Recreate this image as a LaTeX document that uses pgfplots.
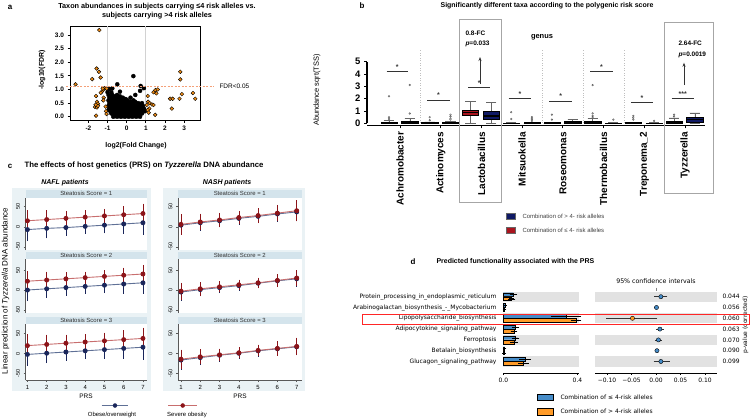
\documentclass[border=0pt]{standalone}
\usepackage{pgfplots}
\pgfplotsset{compat=1.18}
\usepgfplotslibrary{statistics}
\usetikzlibrary{arrows.meta}
\usepackage{fontspec}
\setmainfont{Liberation Sans}
\newfontfamily\dejavu{DejaVu Sans}
\newcommand{\fs}[1]{\fontsize{#1}{#1}\selectfont}

\definecolor{aorange}{RGB}{240,140,20}
\definecolor{fdrline}{RGB}{244,160,120}
\definecolor{bred}{RGB}{170,20,30}
\definecolor{bblue}{RGB}{15,25,100}
\definecolor{cnavy}{RGB}{26,38,90}
\definecolor{cnavyl}{RGB}{95,112,150}
\definecolor{cred}{RGB}{140,20,25}
\definecolor{credl}{RGB}{200,110,110}
\definecolor{stbg}{RGB}{234,242,245}
\definecolor{ststrip}{RGB}{212,228,236}
\definecolor{dblue}{RGB}{70,140,200}
\definecolor{dorange}{RGB}{255,155,40}
\definecolor{band}{RGB}{226,226,226}

\pgfplotsset{
  cax/.style={scale only axis, anchor=north west,
    axis background/.style={fill=white},
    axis y line*=left, axis line style={draw=black!65, line width=0.5bp},
    ytick={-50,0,50}, xtick={1,...,7},
    tick align=outside, major tick length=2bp, tick style={black!65, line width=0.5bp},
    yticklabel style={rotate=90, anchor=south, font=\fs{5.5}},
    xticklabel style={font=\fs{6}},
    /pgf/number format/assume math mode=true, clip=false},
  cleft/.style={cax, xmin=0.9, xmax=7.21, width=121.5bp},
  cright/.style={cax, xmin=0.845, xmax=7.25, width=123.5bp},
  bser/.style={color=cnavyl, line width=0.9bp, mark=*, mark size=2bp,
    mark options={fill=cnavy, draw=cnavy},
    error bars/y dir=both, error bars/y explicit,
    error bars/error bar style={cnavy, line width=0.5bp},
    error bars/error mark options={cnavy, mark size=1.5bp, line width=0.5bp}},
  rser/.style={color=credl, line width=0.9bp, mark=*, mark size=2bp,
    mark options={fill=cred, draw=cred},
    error bars/y dir=both, error bars/y explicit,
    error bars/error bar style={cred, line width=0.5bp},
    error bars/error mark options={cred, mark size=1.5bp, line width=0.5bp}},
  bmark/.style={mark=*, mark size=0.9bp, mark options={fill=gray!40, draw=black!70, line width=0.3bp}},
  dax/.style={scale only axis, anchor=north west, height=82.6bp,
    ymin=-0.6, ymax=7.05, y dir=reverse,
    axis x line*=bottom, axis y line=none,
    axis line style={black, line width=0.5bp},
    tick align=outside, major tick length=2bp, tick style={black, line width=0.5bp},
    xticklabel style={font=\dejavu\fs{6}}, clip=false},
}

\begin{document}
\begin{tikzpicture}[x=1bp, y=-1bp]
\path[use as bounding box] (0,0) rectangle (750,419);

% ---------------- panel a ----------------
\node[font=\fs{8}\bfseries] at (10,7) {a};
\node[font=\fs{7.3}\bfseries, align=center] at (157,11) {Taxon abundances in subjects carrying ≤4 risk alleles vs.\\[1.5bp] subjects carrying >4 risk alleles};
\begin{axis}[at={(70bp,-26bp)}, anchor=north west, scale only axis, width=130bp, height=94bp,
  xmin=-2.96, xmax=3.83, ymin=-0.12, ymax=3.33,
  xtick={-2,-1,0,1,2,3}, ytick={0,0.5,1,1.5,2,2.5,3},
  axis line style={line width=1bp}, tick style={line width=0.8bp, black},
  tick align=outside, major tick length=2.5bp, xtick pos=left, ytick pos=left,
  tick label style={font=\fs{6.5}\bfseries},
  /pgf/number format/assume math mode=true,
  yticklabel style={/pgf/number format/.cd, fixed, fixed zerofill, precision=1},
  clip=false]
\draw[gray!35, line width=0.8bp] (axis cs:-1,-0.12) -- (axis cs:-1,3.33);
\draw[gray!35, line width=0.8bp] (axis cs:1,-0.12) -- (axis cs:1,3.33);
\addplot[only marks, mark=*, mark size=2bp, black] coordinates {
(-0.7,0.0) (-0.5,0.0) (-0.3,0.0) (-0.1,0.0) (0.1,0.0) (0.3,0.0) (0.5,0.0) (0.7,0.0)
(-0.6,0.02) (-0.4,0.02) (-0.2,0.02) (0,0.02) (0.2,0.02) (0.4,0.02) (0.6,0.02)
(-0.6,0.05) (-0.4,0.05) (-0.2,0.05) (0,0.05) (0.2,0.05) (0.4,0.05) (0.6,0.05)
(-0.7,0.08) (-0.5,0.08) (-0.3,0.08) (-0.1,0.08) (0.1,0.08) (0.3,0.08) (0.5,0.08) (0.7,0.08)
(-0.8,0.12) (-0.6,0.12) (-0.4,0.12) (-0.2,0.12) (0,0.12) (0.2,0.12) (0.4,0.12) (0.6,0.12) (0.8,0.12)
(-0.7,0.16) (-0.5,0.16) (-0.3,0.16) (-0.1,0.16) (0.1,0.16) (0.3,0.16) (0.5,0.16) (0.7,0.16)
(-0.85,0.2) (-0.65,0.2) (-0.45,0.2) (-0.25,0.2) (-0.05,0.2) (0.15,0.2) (0.35,0.2) (0.55,0.2) (0.75,0.2) (0.95,0.2)
(-0.95,0.25) (-0.75,0.25) (-0.55,0.25) (-0.35,0.25) (-0.15,0.25) (0.05,0.25) (0.25,0.25) (0.45,0.25) (0.65,0.25) (0.85,0.25)
(-0.9,0.3) (-0.7,0.3) (-0.5,0.3) (-0.3,0.3) (-0.1,0.3) (0.1,0.3) (0.3,0.3) (0.5,0.3) (0.7,0.3) (0.9,0.3)
(-0.8,0.35) (-0.6,0.35) (-0.4,0.35) (-0.2,0.35) (0,0.35) (0.2,0.35) (0.4,0.35) (0.6,0.35) (0.8,0.35)
(-0.95,0.4) (-0.75,0.4) (-0.55,0.4) (-0.35,0.4) (-0.15,0.4) (0.05,0.4) (0.25,0.4) (0.45,0.4) (0.65,0.4) (0.85,0.4)
(-0.85,0.45) (-0.65,0.45) (-0.45,0.45) (-0.25,0.45) (-0.05,0.45) (0.15,0.45) (0.35,0.45) (0.55,0.45) (0.75,0.45)
(-0.9,0.5) (-0.7,0.5) (-0.5,0.5) (-0.3,0.5) (-0.1,0.5) (0.1,0.5) (0.3,0.5) (0.6,0.5) (0.8,0.5)
(-0.8,0.55) (-0.6,0.55) (-0.4,0.55) (-0.2,0.55) (0,0.55) (0.2,0.55) (0.45,0.55)
(-0.95,0.6) (-0.75,0.6) (-0.55,0.6) (-0.35,0.6) (-0.15,0.6) (0.05,0.6) (0.35,0.6)
(-0.85,0.65) (-0.6,0.65) (-0.3,0.65) (-0.05,0.65)
(-0.9,0.7) (-0.7,0.7) (-0.45,0.7) (-0.2,0.7) (0.2,0.7)
(-0.8,0.75) (-0.6,0.75) (-0.35,0.75)
(-0.95,0.8) (-0.75,0.8) (-0.5,0.8) (0.45,0.8)
(-1.0,0.9) (-0.8,0.9) (0.7,0.95) (-0.35,0.92)
(-0.9,1.02) (-0.75,1.04) (-0.49,1.19) (0.35,1.49) (0.73,1.13) (0.9,1.05)
};
\addplot[only marks, mark=*, mark size=1.9bp, mark options={fill=aorange, draw=black, line width=0.4bp}] coordinates {
(-1.43,3.18) (-2.67,1.19) (-1.8,1.38) (-1.57,1.77) (-1.45,1.65) (-1.36,1.44)
(-1.3,0.92) (-1.2,1.0) (-1.15,1.05) (-1.05,1.03) (-1.25,1.04) (-1.35,0.88)
(-1.6,0.76) (-1.55,0.55) (-1.5,0.48) (-1.65,0.36) (-1.55,0.34) (-1.5,0.4) (-1.62,0.44)
(-1.6,0.04) (-1.1,0.37) (-1.08,0.2) (-1.05,0.1) (-1.2,0.7) (-1.22,0.6)
(2.8,1.65) (2.8,1.37) (2.88,0.83) (2.76,0.66) (2.27,0.66) (2.4,0.66) (2.36,0.3) (3.46,0.87) (3.58,0.66)
(1.4,0.9) (1.5,0.98) (1.62,1.0) (1.55,0.86)
(1.1,0.76) (1.12,0.55) (1.2,0.5) (1.05,0.43) (1.18,0.3) (1.1,0.25) (1.32,0.45) (1.4,0.43) (1.15,0.15) (1.49,0.07)
};
\end{axis}
\draw[fdrline, line width=1bp, dash pattern=on 2bp off 1.5bp] (66,86.2) -- (214,86.2);
\node[font=\fs{6.5}, anchor=west] at (216,86.2) {FDR<0.05};
\node[font=\fs{7}\bfseries, rotate=90] at (42,70) {-log10(FDR)};
\node[font=\fs{7}\bfseries] at (136,146) {log2(Fold Change)};

% ---------------- panel b ----------------
\node[font=\fs{8}\bfseries] at (362,6) {b};
\node[font=\fs{7}\bfseries] at (547,6) {Significantly different taxa according to the polygenic risk score};
\begin{axis}[at={(367bp,-49.3bp)}, anchor=north west, scale only axis, width=338bp, height=76.1bp,
  xmin=-0.81, xmax=7.49, ymin=-0.17, ymax=6,
  axis x line*=bottom, axis y line*=left, axis line style={draw=none},
  xtick={0,...,7},
  xticklabels={Achromobacter,Actinomyces,Lactobacillus,Mitsuokella,Roseomonas,Thermobacillus,Treponema\_2,Tyzzerella},
  ytick={0,...,5}, tick align=outside, major tick length=3bp, tick style={black, line width=0.9bp},
  xticklabel style={rotate=90, anchor=east, font=\fs{10}\bfseries},
  yticklabel style={font=\fs{9.5}\bfseries},
  /pgf/number format/assume math mode=true, clip=false,
  boxplot/draw direction=y,
  boxplot/box extend=0.4,
  boxplot/whisker extend=0.25,
  boxplot/every median/.style={line width=1.2bp, black},
  boxplot/every whisker/.style={black!60, line width=0.5bp}]
\foreach \s in {0.5,3.5,4.5,5.5} {\edef\tmp{\noexpand\draw[gray!50, dotted, line width=0.5bp] (axis cs:\s,-0.17) -- (axis cs:\s,6);}\tmp}
\draw[line width=1.2bp] (axis cs:-0.81,0) -- (axis cs:-0.81,5);
\draw[line width=1.2bp] (axis cs:-0.81,-0.17) -- (axis cs:7.49,-0.17);
% Achromobacter
\addplot[boxplot prepared={draw position=-0.27, lower whisker=0, lower quartile=0, median=0.02, upper quartile=0.08, upper whisker=0.25}, fill=bred, draw=black, bmark] table[row sep=\\, y index=0] {d\\2.2\\0.5\\0.35\\};
\addplot[boxplot prepared={draw position=0.24, lower whisker=0, lower quartile=0.02, median=0.08, upper quartile=0.18, upper whisker=0.38}, fill=bblue, draw=black, bmark] table[row sep=\\, y index=0] {d\\3.1\\0.8\\};
% Actinomyces
\addplot[boxplot prepared={draw position=0.73, lower whisker=0, lower quartile=0, median=0.01, upper quartile=0.05, upper whisker=0.12}, fill=bred, draw=black, bmark] table[row sep=\\, y index=0] {d\\0.5\\0.25\\};
\addplot[boxplot prepared={draw position=1.24, lower whisker=0, lower quartile=0, median=0.01, upper quartile=0.06, upper whisker=0.15}, fill=bblue, draw=black, bmark] table[row sep=\\, y index=0] {d\\0.7\\0.55\\0.4\\0.3\\};
% Lactobacillus
\addplot[boxplot prepared={draw position=1.73, lower whisker=0, lower quartile=0.62, median=0.85, upper quartile=1.1, upper whisker=1.75}, fill=bred, draw=black, bmark] coordinates {};
\addplot[boxplot prepared={draw position=2.24, lower whisker=0, lower quartile=0.35, median=0.6, upper quartile=0.98, upper whisker=1.7}, fill=bblue, draw=black, bmark] coordinates {};
% Mitsuokella
\addplot[boxplot prepared={draw position=2.73, lower whisker=0, lower quartile=0, median=0.01, upper quartile=0.04, upper whisker=0.08}, fill=bred, draw=black, bmark] table[row sep=\\, y index=0] {d\\0.9\\0.35\\};
\addplot[boxplot prepared={draw position=3.24, lower whisker=0, lower quartile=0, median=0.01, upper quartile=0.05, upper whisker=0.1}, fill=bblue, draw=black, bmark] table[row sep=\\, y index=0] {d\\0.5\\0.4\\0.3\\0.2\\};
% Roseomonas
\addplot[boxplot prepared={draw position=3.73, lower whisker=0, lower quartile=0, median=0.01, upper quartile=0.05, upper whisker=0.1}, fill=bred, draw=black, bmark] table[row sep=\\, y index=0] {d\\0.7\\0.3\\};
\addplot[boxplot prepared={draw position=4.24, lower whisker=0, lower quartile=0.02, median=0.07, upper quartile=0.15, upper whisker=0.3}, fill=bblue, draw=black, bmark] coordinates {};
% Thermobacillus
\addplot[boxplot prepared={draw position=4.73, lower whisker=0, lower quartile=0.02, median=0.08, upper quartile=0.2, upper whisker=0.4}, fill=bred, draw=black, bmark] table[row sep=\\, y index=0] {d\\3.1\\0.8\\0.6\\0.5\\};
\addplot[boxplot prepared={draw position=5.24, lower whisker=0, lower quartile=0, median=0.01, upper quartile=0.04, upper whisker=0.08}, fill=bblue, draw=black, bmark] table[row sep=\\, y index=0] {d\\0.3\\};
% Treponema_2
\addplot[boxplot prepared={draw position=5.73, lower whisker=0, lower quartile=0, median=0.01, upper quartile=0.05, upper whisker=0.1}, fill=bred, draw=black, bmark] table[row sep=\\, y index=0] {d\\0.6\\0.45\\0.3\\};
\addplot[boxplot prepared={draw position=6.24, lower whisker=0, lower quartile=0, median=0.01, upper quartile=0.03, upper whisker=0.06}, fill=bblue, draw=black, bmark] table[row sep=\\, y index=0] {d\\0.2\\};
% Tyzzerella
\addplot[boxplot prepared={draw position=6.73, lower whisker=0, lower quartile=0, median=0.05, upper quartile=0.2, upper whisker=0.45}, fill=bred, draw=black, bmark] table[row sep=\\, y index=0] {d\\0.7\\0.55\\};
\addplot[boxplot prepared={draw position=7.24, lower whisker=0, lower quartile=0.05, median=0.28, upper quartile=0.48, upper whisker=0.85}, fill=bblue, draw=black, bmark] coordinates {};
% significance bars
\draw[black!80, line width=0.6bp] (axis cs:-0.33,4.2) -- (axis cs:0.2,4.2) node[midway, above=-1.5bp, font=\fs{7}\bfseries] {*};
\draw[black!80, line width=0.6bp] (axis cs:0.67,1.9) -- (axis cs:1.22,1.9) node[midway, above=-1.5bp, font=\fs{7}\bfseries] {*};
\draw[black!80, line width=0.6bp] (axis cs:1.67,2.9) -- (axis cs:2.22,2.9) node[midway, above=-1.5bp, font=\fs{7}\bfseries] {*};
\draw[black!80, line width=0.6bp] (axis cs:2.67,2.0) -- (axis cs:3.22,2.0) node[midway, above=-1.5bp, font=\fs{7}\bfseries] {*};
\draw[black!80, line width=0.6bp] (axis cs:3.67,1.8) -- (axis cs:4.22,1.8) node[midway, above=-1.5bp, font=\fs{7}\bfseries] {*};
\draw[black!80, line width=0.6bp] (axis cs:4.67,4.2) -- (axis cs:5.22,4.2) node[midway, above=-1.5bp, font=\fs{7}\bfseries] {*};
\draw[black!80, line width=0.6bp] (axis cs:5.67,1.7) -- (axis cs:6.22,1.7) node[midway, above=-1.5bp, font=\fs{7}\bfseries] {*};
\draw[black!80, line width=0.6bp] (axis cs:6.67,2.0) -- (axis cs:7.22,2.0) node[midway, above=-1.5bp, font=\fs{7}\bfseries] {***};
\end{axis}
\draw[gray!70, line width=0.8bp] (459,19) rectangle (501.7,202.7);
\draw[gray!70, line width=0.8bp] (664,22) rectangle (713,193);
\draw[black!80, line width=0.7bp, -{Stealth[length=4bp, width=3bp]}] (480,84) -- (480,57);
\draw[black!80, line width=0.7bp, -{Stealth[length=4bp, width=3bp]}] (684,85) -- (684,62.7);
\node[font=\fs{6.5}\bfseries, anchor=west] at (462,33) {0.8-FC};
\node[font=\fs{6.5}\bfseries, anchor=west] at (462,43.5) {\textit{p}=0.033};
\node[font=\fs{6.5}\bfseries, anchor=west] at (675,43) {2.64-FC};
\node[font=\fs{6.5}\bfseries, anchor=west] at (675,54.5) {\textit{p}=0.0019};
\node[font=\fs{7.5}\bfseries] at (542,37) {genus};
\node[font=\fs{7.5}, rotate=90] at (317,90) {Abundance sqrt(TSS)};
\filldraw[fill=bblue, draw=black!60, line width=0.3bp] (506,212.7) rectangle (515.5,219.3);
\filldraw[fill=bred, draw=black!60, line width=0.3bp] (506,226.7) rectangle (515.5,233.5);
\node[font=\fs{6}, text=black!75, anchor=west] at (519,216) {Combination of > 4- risk alleles};
\node[font=\fs{6}, text=black!75, anchor=west] at (519,230.2) {Combination of ≤ 4- risk alleles};

% ---------------- panel c ----------------
\node[font=\fs{8}\bfseries] at (10,166) {c};
\node[font=\fs{7.8}\bfseries, anchor=west] at (21,166) {The effects of host genetics (PRS) on \textit{Tyzzerella} DNA abundance};
\node[font=\fs{7}\bfseries\itshape] at (65,183) {NAFL patients};
\node[font=\fs{7}\bfseries\itshape] at (227,183) {NASH patients};
\fill[stbg] (11.5,188) rectangle (150.5,391);
\fill[stbg] (163,188) rectangle (305,391);
\foreach \ya/\yb/\k in {190/197.5/1, 251.5/259/2, 316.5/324/3} {
  \fill[ststrip] (25.5,\ya) rectangle (147,\yb);
  \fill[ststrip] (178,\ya) rectangle (301.5,\yb);
  \node[font=\fs{6}, text=black!80] at (86.25,{(\ya+\yb)/2}) {Steatosis Score = \k};
  \node[font=\fs{6}, text=black!80] at (239.75,{(\ya+\yb)/2}) {Steatosis Score = \k};
}
\node[font=\fs{8}, rotate=90] at (5.5,291) {Linear prediction of \textit{Tyzzerella} DNA abundance};

% NAFL
\begin{axis}[cleft, at={(25.5bp,-197.5bp)}, height=52.5bp, ymin=-58, ymax=73, axis x line=none]
\addplot[bser] coordinates {(1,-7) +- (0,25) (2,-4) +- (0,21) (3,-2) +- (0,17) (4,1) +- (0,15) (5,4) +- (0,17) (6,7) +- (0,21) (7,10) +- (0,26)};
\addplot[rser] coordinates {(1,15) +- (0,23) (2,18) +- (0,19) (3,21) +- (0,15) (4,24) +- (0,13) (5,27) +- (0,14) (6,30) +- (0,17) (7,33) +- (0,21)};
\end{axis}
\begin{axis}[cleft, at={(25.5bp,-259bp)}, height=54bp, ymin=-57.5, ymax=77.5, axis x line=none]
\addplot[bser] coordinates {(1,0) +- (0,24) (2,3) +- (0,19) (3,6) +- (0,16) (4,9) +- (0,14) (5,12) +- (0,16) (6,15) +- (0,20) (7,18) +- (0,24)};
\addplot[rser] coordinates {(1,22) +- (0,21) (2,25) +- (0,17) (3,28) +- (0,13) (4,31) +- (0,11) (5,34) +- (0,12) (6,37) +- (0,15) (7,40) +- (0,19)};
\end{axis}
\begin{axis}[cleft, at={(25.5bp,-324bp)}, height=56bp, ymin=-66, ymax=74, axis x line*=bottom]
\addplot[bser] coordinates {(1,-2) +- (0,25) (2,1) +- (0,21) (3,4) +- (0,18) (4,7) +- (0,17) (5,10) +- (0,19) (6,13) +- (0,22) (7,16) +- (0,27)};
\addplot[rser] coordinates {(1,20) +- (0,25) (2,23) +- (0,21) (3,26) +- (0,18) (4,29) +- (0,16) (5,32) +- (0,17) (6,35) +- (0,20) (7,38) +- (0,23)};
\end{axis}
% NASH
\begin{axis}[cright, at={(178bp,-197.5bp)}, height=52.5bp, ymin=-58, ymax=73, axis x line=none]
\addplot[bser] coordinates {(1,4) +- (0,20) (2,10) +- (0,16) (3,15) +- (0,13) (4,21) +- (0,12) (5,26) +- (0,13) (6,32) +- (0,16) (7,37) +- (0,20)};
\addplot[rser] coordinates {(1,6) +- (0,22) (2,12) +- (0,17) (3,17) +- (0,14) (4,23) +- (0,13) (5,28) +- (0,14) (6,34) +- (0,17) (7,40) +- (0,22)};
\end{axis}
\begin{axis}[cright, at={(178bp,-259bp)}, height=54bp, ymin=-57.5, ymax=77.5, axis x line=none]
\addplot[bser] coordinates {(1,-5) +- (0,18) (2,1) +- (0,13) (3,6) +- (0,10) (4,11) +- (0,9) (5,17) +- (0,9) (6,23) +- (0,12) (7,28) +- (0,16)};
\addplot[rser] coordinates {(1,-3) +- (0,17) (2,3) +- (0,13) (3,8) +- (0,10) (4,13) +- (0,9) (5,18) +- (0,9) (6,24) +- (0,12) (7,30) +- (0,16)};
\end{axis}
\begin{axis}[cright, at={(178bp,-324bp)}, height=56bp, ymin=-66, ymax=74, axis x line*=bottom]
\addplot[bser] coordinates {(1,-16) +- (0,20) (2,-10) +- (0,15) (3,-4) +- (0,12) (4,1) +- (0,10) (5,7) +- (0,11) (6,12) +- (0,14) (7,17) +- (0,17)};
\addplot[rser] coordinates {(1,-14) +- (0,20) (2,-8) +- (0,15) (3,-3) +- (0,12) (4,2) +- (0,10) (5,8) +- (0,11) (6,13) +- (0,14) (7,18) +- (0,18)};
\end{axis}
\node[font=\fs{6.5}] at (86,396.5) {PRS};
\node[font=\fs{6.5}] at (240,396.5) {PRS};
\draw[cnavyl, line width=0.9bp] (101.7,405.5) -- (128.3,405.5);
\filldraw[fill=cnavy, draw=cnavy] (115,405.5) circle (2bp);
\draw[credl, line width=0.9bp] (168.3,405.5) -- (196.7,405.5);
\filldraw[fill=cred, draw=cred] (182.7,405.5) circle (2bp);
\node[font=\fs{6}] at (112,415) {Obese/overweight};
\node[font=\fs{6}] at (187,415) {Severe obesity};

% ---------------- panel d ----------------
\node[font=\fs{8}\bfseries] at (413,262) {d};
\node[font=\fs{7}\bfseries, anchor=west] at (433,262) {Predicted functionality associated with the PRS};
\node[font=\dejavu\fs{6.3}] at (656,280.7) {95\% confidence intervals};
\draw[gray, line width=0.5bp] (656,287.5) -- (656,290.5);
\begin{axis}[dax, at={(503.3bp,-290.2bp)}, width=76bp, xmin=0, xmax=0.41,
  xtick={0,0.4}, xticklabels={0.0,0.4}]
\foreach \r in {0,2,4,6} {\edef\tmp{\noexpand\fill[band] (axis cs:0,\r-0.47) rectangle (axis cs:0.41,\r+0.47);}\tmp}
\addplot[xbar, bar width=3.8bp, bar shift=0bp, fill=dblue, draw=black, line width=0.4bp,
  error bars/x dir=both, error bars/x explicit, error bars/error bar style={black, line width=0.5bp},
  error bars/error mark options={black, mark size=1.5bp}] coordinates {
  (0.054,-0.19) +- (0.012,0) (0.008,0.81) +- (0.002,0) (0.34,1.81) +- (0.072,0)
  (0.066,2.81) +- (0.012,0) (0.066,3.81) +- (0.012,0) (0.007,4.81) +- (0.002,0) (0.117,5.81) +- (0.022,0)};
\addplot[xbar, bar width=3.8bp, bar shift=0bp, fill=dorange, draw=black, line width=0.4bp,
  error bars/x dir=both, error bars/x explicit, error bars/error bar style={black, line width=0.5bp},
  error bars/error mark options={black, mark size=1.5bp}] coordinates {
  (0.045,0.19) +- (0.012,0) (0.006,1.19) +- (0.002,0) (0.393,2.19) +- (0.02,0)
  (0.058,3.19) +- (0.01,0) (0.058,4.19) +- (0.012,0) (0.005,5.19) +- (0.002,0) (0.108,6.19) +- (0.02,0)};
\end{axis}
\begin{axis}[dax, at={(595bp,-290.2bp)}, width=121.7bp, xmin=-0.1245, xmax=0.124,
  xtick={-0.1,-0.05,0,0.05,0.1}, xticklabels={−0.10,−0.05,0.00,0.05,0.10}]
\foreach \r in {0,2,4,6} {\edef\tmp{\noexpand\fill[band] (axis cs:-0.1245,\r-0.47) rectangle (axis cs:0.124,\r+0.47);}\tmp}
\addplot[only marks, mark=*, mark size=2.1bp, mark options={fill=dblue, draw=black, line width=0.4bp},
  error bars/x dir=both, error bars/x explicit, error bars/error bar style={black!80, line width=0.5bp},
  error bars/error mark options={black!80, mark size=1.5bp}] coordinates {
  (0.010,0) += (0.010,0) -= (0.010,0)
  (0.001,1) += (0.001,0) -= (0.001,0)
  (0.008,3) += (0.005,0) -= (0.005,0)
  (0.005,4) += (0.004,0) -= (0.004,0)
  (0.002,5) += (0.001,0) -= (0.001,0)
  (0.010,6) += (0.015,0) -= (0.012,0)};
\addplot[only marks, mark=*, mark size=2.1bp, mark options={fill=dorange, draw=black, line width=0.4bp},
  error bars/x dir=both, error bars/x explicit, error bars/error bar style={black!80, line width=0.5bp},
  error bars/error mark options={black!80, mark size=1.5bp}] coordinates {
  (-0.048,2) += (0.048,0) -= (0.051,0)};
\end{axis}
\foreach \lab/\yy in {Protein\_processing\_in\_endoplasmic\_reticulum/296.7, Arabinogalactan\_biosynthesis\_-\_Mycobacterium/307.5, Lipopolysaccharide\_biosynthesis/318.3, Adipocytokine\_signaling\_pathway/329.1, Ferroptosis/339.9, Betalain\_biosynthesis/350.7, Glucagon\_signaling\_pathway/361.5} {
  \node[font=\dejavu\fs{6}, anchor=east] at (500,\yy) {\lab};
}
\foreach \pv/\yy in {0.044/296.7, 0.056/307.5, 0.060/318.3, 0.063/329.1, 0.070/339.9, 0.090/350.7, 0.099/361.5} {
  \node[font=\dejavu\fs{6}, anchor=west] at (719,\yy) {\pv};
}
\node[font=\dejavu\fs{6}, rotate=90] at (745.5,325) {p-value (corrected)};
\draw[red!85, line width=0.7bp] (362.7,314.5) rectangle (749,324);
\filldraw[fill=dblue, draw=black, line width=0.4bp] (536.7,394.3) rectangle (553.3,400.5);
\filldraw[fill=dorange, draw=black, line width=0.4bp] (536.7,408.5) rectangle (553.3,414.7);
\node[font=\dejavu\fs{6}, anchor=west] at (557,397.4) {Combination of ≤ 4-risk alleles};
\node[font=\dejavu\fs{6}, anchor=west] at (557,411.6) {Combination of > 4-risk alleles};
\end{tikzpicture}
\end{document}
